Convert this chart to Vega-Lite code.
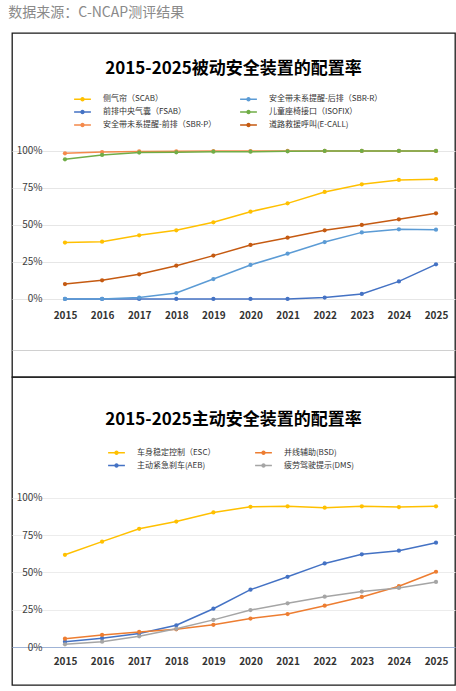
{
  "$schema": "https://vega.github.io/schema/vega-lite/v6.json",
  "background": "white",
  "padding": {"left": 8, "top": 6, "right": 4, "bottom": 4},
  "title": {"text": "数据来源：C-NCAP测评结果", "anchor": "start", "fontSize": 14, "fontWeight": "normal", "color": "#8a8a8a", "font": "Noto Sans CJK SC", "offset": 12, "dx": -3},
  "spacing": 0,
  "bounds": "flush",
  "resolve": {"scale": {"color": "independent", "y": "independent"}, "legend": {"color": "independent"}},
  "config": {"font": "Noto Sans CJK SC", "view": {"stroke": "#1a1a1a", "strokeWidth": 1.3}},
  "datasets": {
    "passive": [
      {"year": "2015", "series": "侧气帘（SCAB）", "value": 0.381},
      {"year": "2016", "series": "侧气帘（SCAB）", "value": 0.387},
      {"year": "2017", "series": "侧气帘（SCAB）", "value": 0.430},
      {"year": "2018", "series": "侧气帘（SCAB）", "value": 0.464},
      {"year": "2019", "series": "侧气帘（SCAB）", "value": 0.518},
      {"year": "2020", "series": "侧气帘（SCAB）", "value": 0.590},
      {"year": "2021", "series": "侧气帘（SCAB）", "value": 0.646},
      {"year": "2022", "series": "侧气帘（SCAB）", "value": 0.723},
      {"year": "2023", "series": "侧气帘（SCAB）", "value": 0.775},
      {"year": "2024", "series": "侧气帘（SCAB）", "value": 0.804},
      {"year": "2025", "series": "侧气帘（SCAB）", "value": 0.809},
      {"year": "2015", "series": "前排中央气囊（FSAB）", "value": 0.0},
      {"year": "2016", "series": "前排中央气囊（FSAB）", "value": 0.0},
      {"year": "2017", "series": "前排中央气囊（FSAB）", "value": 0.0},
      {"year": "2018", "series": "前排中央气囊（FSAB）", "value": 0.0},
      {"year": "2019", "series": "前排中央气囊（FSAB）", "value": 0.0},
      {"year": "2020", "series": "前排中央气囊（FSAB）", "value": 0.0},
      {"year": "2021", "series": "前排中央气囊（FSAB）", "value": 0.0},
      {"year": "2022", "series": "前排中央气囊（FSAB）", "value": 0.01},
      {"year": "2023", "series": "前排中央气囊（FSAB）", "value": 0.034},
      {"year": "2024", "series": "前排中央气囊（FSAB）", "value": 0.119},
      {"year": "2025", "series": "前排中央气囊（FSAB）", "value": 0.234},
      {"year": "2015", "series": "安全带未系提醒-前排（SBR-P）", "value": 0.984},
      {"year": "2016", "series": "安全带未系提醒-前排（SBR-P）", "value": 0.993},
      {"year": "2017", "series": "安全带未系提醒-前排（SBR-P）", "value": 0.997},
      {"year": "2018", "series": "安全带未系提醒-前排（SBR-P）", "value": 0.998},
      {"year": "2019", "series": "安全带未系提醒-前排（SBR-P）", "value": 0.999},
      {"year": "2020", "series": "安全带未系提醒-前排（SBR-P）", "value": 0.999},
      {"year": "2021", "series": "安全带未系提醒-前排（SBR-P）", "value": 1.0},
      {"year": "2022", "series": "安全带未系提醒-前排（SBR-P）", "value": 1.0},
      {"year": "2023", "series": "安全带未系提醒-前排（SBR-P）", "value": 1.0},
      {"year": "2024", "series": "安全带未系提醒-前排（SBR-P）", "value": 1.0},
      {"year": "2025", "series": "安全带未系提醒-前排（SBR-P）", "value": 1.0},
      {"year": "2015", "series": "安全带未系提醒-后排（SBR-R）", "value": 0.0},
      {"year": "2016", "series": "安全带未系提醒-后排（SBR-R）", "value": 0.0},
      {"year": "2017", "series": "安全带未系提醒-后排（SBR-R）", "value": 0.01},
      {"year": "2018", "series": "安全带未系提醒-后排（SBR-R）", "value": 0.04},
      {"year": "2019", "series": "安全带未系提醒-后排（SBR-R）", "value": 0.135},
      {"year": "2020", "series": "安全带未系提醒-后排（SBR-R）", "value": 0.23},
      {"year": "2021", "series": "安全带未系提醒-后排（SBR-R）", "value": 0.306},
      {"year": "2022", "series": "安全带未系提醒-后排（SBR-R）", "value": 0.385},
      {"year": "2023", "series": "安全带未系提醒-后排（SBR-R）", "value": 0.45},
      {"year": "2024", "series": "安全带未系提醒-后排（SBR-R）", "value": 0.471},
      {"year": "2025", "series": "安全带未系提醒-后排（SBR-R）", "value": 0.468},
      {"year": "2015", "series": "儿童座椅接口（ISOFIX）", "value": 0.944},
      {"year": "2016", "series": "儿童座椅接口（ISOFIX）", "value": 0.973},
      {"year": "2017", "series": "儿童座椅接口（ISOFIX）", "value": 0.989},
      {"year": "2018", "series": "儿童座椅接口（ISOFIX）", "value": 0.991},
      {"year": "2019", "series": "儿童座椅接口（ISOFIX）", "value": 0.995},
      {"year": "2020", "series": "儿童座椅接口（ISOFIX）", "value": 0.995},
      {"year": "2021", "series": "儿童座椅接口（ISOFIX）", "value": 0.998},
      {"year": "2022", "series": "儿童座椅接口（ISOFIX）", "value": 1.0},
      {"year": "2023", "series": "儿童座椅接口（ISOFIX）", "value": 1.0},
      {"year": "2024", "series": "儿童座椅接口（ISOFIX）", "value": 1.0},
      {"year": "2025", "series": "儿童座椅接口（ISOFIX）", "value": 1.0},
      {"year": "2015", "series": "道路救援呼叫(E-CALL)", "value": 0.101},
      {"year": "2016", "series": "道路救援呼叫(E-CALL)", "value": 0.126},
      {"year": "2017", "series": "道路救援呼叫(E-CALL)", "value": 0.167},
      {"year": "2018", "series": "道路救援呼叫(E-CALL)", "value": 0.225},
      {"year": "2019", "series": "道路救援呼叫(E-CALL)", "value": 0.293},
      {"year": "2020", "series": "道路救援呼叫(E-CALL)", "value": 0.365},
      {"year": "2021", "series": "道路救援呼叫(E-CALL)", "value": 0.414},
      {"year": "2022", "series": "道路救援呼叫(E-CALL)", "value": 0.464},
      {"year": "2023", "series": "道路救援呼叫(E-CALL)", "value": 0.5},
      {"year": "2024", "series": "道路救援呼叫(E-CALL)", "value": 0.538},
      {"year": "2025", "series": "道路救援呼叫(E-CALL)", "value": 0.579}
    ],
    "active": [
      {"year": "2015", "series": "车身稳定控制（ESC）", "value": 0.619},
      {"year": "2016", "series": "车身稳定控制（ESC）", "value": 0.707},
      {"year": "2017", "series": "车身稳定控制（ESC）", "value": 0.793},
      {"year": "2018", "series": "车身稳定控制（ESC）", "value": 0.842},
      {"year": "2019", "series": "车身稳定控制（ESC）", "value": 0.903},
      {"year": "2020", "series": "车身稳定控制（ESC）", "value": 0.941},
      {"year": "2021", "series": "车身稳定控制（ESC）", "value": 0.944},
      {"year": "2022", "series": "车身稳定控制（ESC）", "value": 0.935},
      {"year": "2023", "series": "车身稳定控制（ESC）", "value": 0.944},
      {"year": "2024", "series": "车身稳定控制（ESC）", "value": 0.939},
      {"year": "2025", "series": "车身稳定控制（ESC）", "value": 0.944},
      {"year": "2015", "series": "主动紧急刹车(AEB)", "value": 0.036},
      {"year": "2016", "series": "主动紧急刹车(AEB)", "value": 0.059},
      {"year": "2017", "series": "主动紧急刹车(AEB)", "value": 0.09},
      {"year": "2018", "series": "主动紧急刹车(AEB)", "value": 0.146},
      {"year": "2019", "series": "主动紧急刹车(AEB)", "value": 0.257},
      {"year": "2020", "series": "主动紧急刹车(AEB)", "value": 0.385},
      {"year": "2021", "series": "主动紧急刹车(AEB)", "value": 0.471},
      {"year": "2022", "series": "主动紧急刹车(AEB)", "value": 0.561},
      {"year": "2023", "series": "主动紧急刹车(AEB)", "value": 0.622},
      {"year": "2024", "series": "主动紧急刹车(AEB)", "value": 0.646},
      {"year": "2025", "series": "主动紧急刹车(AEB)", "value": 0.70},
      {"year": "2015", "series": "并线辅助(BSD)", "value": 0.056},
      {"year": "2016", "series": "并线辅助(BSD)", "value": 0.081},
      {"year": "2017", "series": "并线辅助(BSD)", "value": 0.101},
      {"year": "2018", "series": "并线辅助(BSD)", "value": 0.119},
      {"year": "2019", "series": "并线辅助(BSD)", "value": 0.149},
      {"year": "2020", "series": "并线辅助(BSD)", "value": 0.191},
      {"year": "2021", "series": "并线辅助(BSD)", "value": 0.221},
      {"year": "2022", "series": "并线辅助(BSD)", "value": 0.277},
      {"year": "2023", "series": "并线辅助(BSD)", "value": 0.336},
      {"year": "2024", "series": "并线辅助(BSD)", "value": 0.408},
      {"year": "2025", "series": "并线辅助(BSD)", "value": 0.505},
      {"year": "2015", "series": "疲劳驾驶提示(DMS)", "value": 0.018},
      {"year": "2016", "series": "疲劳驾驶提示(DMS)", "value": 0.036},
      {"year": "2017", "series": "疲劳驾驶提示(DMS)", "value": 0.072},
      {"year": "2018", "series": "疲劳驾驶提示(DMS)", "value": 0.122},
      {"year": "2019", "series": "疲劳驾驶提示(DMS)", "value": 0.182},
      {"year": "2020", "series": "疲劳驾驶提示(DMS)", "value": 0.248},
      {"year": "2021", "series": "疲劳驾驶提示(DMS)", "value": 0.293},
      {"year": "2022", "series": "疲劳驾驶提示(DMS)", "value": 0.338},
      {"year": "2023", "series": "疲劳驾驶提示(DMS)", "value": 0.372},
      {"year": "2024", "series": "疲劳驾驶提示(DMS)", "value": 0.396},
      {"year": "2025", "series": "疲劳驾驶提示(DMS)", "value": 0.437}
    ]
  },
  "vconcat": [
    {
      "width": 443,
      "height": 344,
      "data": {"name": "passive"},
      "title": {"text": "2015-2025被动安全装置的配置率", "anchor": "middle", "fontSize": 17, "fontWeight": "bold", "color": "#000000", "offset": -53, "baseline": "middle"},
      "mark": {"type": "line", "strokeWidth": 1.5, "point": {"filled": true, "size": 18}},
      "encoding": {
        "x": {"field": "year", "type": "ordinal", "scale": {"type": "point", "padding": 0.97, "align": 0.736},
          "axis": {"title": null, "orient": "bottom", "offset": -69, "domain": false, "ticks": false, "labelPadding": 2, "labelFontSize": 10, "labelFontWeight": "bold", "labelColor": "#333333", "labelAngle": 0, "grid": false}},
        "y": {"field": "value", "type": "quantitative", "scale": {"domain": [-0.527, 1.797], "nice": false, "zero": false},
          "axis": {"title": null, "values": [-0.345, 0, 0.25, 0.5, 0.75, 1], "labelExpr": "datum.value < 0 ? '' : format(datum.value, '.0%')", "offset": -35, "domain": false, "ticks": false, "labelPadding": 5, "labelFontSize": 10, "labelColor": "#404040", "gridColor": {"condition": {"test": "datum.value < 0", "value": "#d0d0d0"}, "value": "#e6e6e6"}, "gridWidth": 1}},
        "color": {"field": "series", "type": "nominal",
          "scale": {"domain": ["侧气帘（SCAB）", "前排中央气囊（FSAB）", "安全带未系提醒-前排（SBR-P）", "安全带未系提醒-后排（SBR-R）", "儿童座椅接口（ISOFIX）", "道路救援呼叫(E-CALL)"],
                    "range": ["#FFC000", "#4472C4", "#F4894B", "#5B9BD5", "#70AD47", "#C55A11"]},
          "legend": {"title": null, "orient": "none", "legendX": 63.5, "legendY": 59, "columns": 2, "gridAlign": "all", "columnPadding": 20, "rowPadding": 1, "padding": 0,
            "symbolType": "M-1.4,0L1.4,0M-0.25,0A0.25,0.25,0,1,1,0.25,0A0.25,0.25,0,1,1,-0.25,0", "symbolSize": 144, "symbolStrokeWidth": 1.5,
            "labelFontSize": 8, "labelColor": "#333333", "labelOffset": 13.4, "labelLimit": 200}}
      }
    },
    {
      "width": 443,
      "height": 308,
      "data": {"name": "active"},
      "title": {"text": "2015-2025主动安全装置的配置率", "anchor": "middle", "fontSize": 17, "fontWeight": "bold", "color": "#000000", "offset": -60, "baseline": "middle"},
      "mark": {"type": "line", "strokeWidth": 1.5, "point": {"filled": true, "size": 18}},
      "encoding": {
        "x": {"field": "year", "type": "ordinal", "scale": {"type": "point", "padding": 0.97, "align": 0.736},
          "axis": {"title": null, "orient": "bottom", "offset": -31, "domain": false, "ticks": false, "labelPadding": 2, "labelFontSize": 10, "labelFontWeight": "bold", "labelColor": "#333333", "labelAngle": 0, "grid": false}},
        "y": {"field": "value", "type": "quantitative", "scale": {"domain": [-0.255, 1.812], "nice": false, "zero": false},
          "axis": {"title": null, "values": [0, 0.25, 0.5, 0.75, 1], "format": ".0%", "offset": -35, "domain": false, "ticks": false, "labelPadding": 5, "labelFontSize": 10, "labelColor": "#404040", "gridColor": {"condition": {"test": "datum.value === 0", "value": "#9fb3d6"}, "value": "#ececec"}, "gridWidth": 1}},
        "color": {"field": "series", "type": "nominal",
          "scale": {"domain": ["车身稳定控制（ESC）", "主动紧急刹车(AEB)", "并线辅助(BSD)", "疲劳驾驶提示(DMS)"],
                    "range": ["#FFC000", "#4472C4", "#ED7D31", "#A5A5A5"]},
          "legend": {"title": null, "orient": "none", "legendX": 97.5, "legendY": 68.5, "columns": 2, "gridAlign": "all", "columnPadding": 36, "rowPadding": 1, "padding": 0,
            "symbolType": "M-1.4,0L1.4,0M-0.25,0A0.25,0.25,0,1,1,0.25,0A0.25,0.25,0,1,1,-0.25,0", "symbolSize": 144, "symbolStrokeWidth": 1.5,
            "labelFontSize": 8, "labelColor": "#333333", "labelOffset": 13.4, "labelLimit": 200}}
      }
    }
  ]
}
